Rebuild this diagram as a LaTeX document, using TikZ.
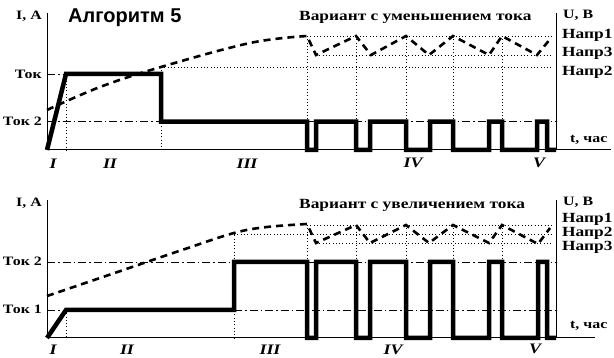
\documentclass[tikz,border=0pt]{standalone}
\usepackage{fontspec}
\usepackage{graphicx}
\setmainfont{Liberation Serif}
\newfontfamily\sansbold{Liberation Sans}
\newcommand{\widetxt}[1]{\scalebox{1.24}[1]{#1}}
\begin{document}
\begin{tikzpicture}[x=1pt,y=-1pt,
  axisline/.style={line width=1pt},
  sigline/.style={line width=4.5pt, line join=miter},
  voltline/.style={line width=2.6pt, dash pattern=on 7pt off 5pt},
  dotline/.style={line width=0.9pt, dash pattern=on 0.9pt off 2.4pt},
  ddline/.style={line width=0.9pt, dash pattern=on 8pt off 3pt on 1.5pt off 3pt},
  lab/.style={font=\fontsize{12.8}{13}\selectfont\bfseries, inner sep=0pt},
  bigl/.style={font=\fontsize{14}{15}\selectfont\bfseries, inner sep=0pt, anchor=west},
  roman/.style={font=\fontsize{14.5}{15}\selectfont\bfseries\itshape, inner sep=0pt}]
\useasboundingbox (0,0) rectangle (614,358);

% ================= TOP PANEL =================
\draw[dotline] (66,74) -- (66,150);
\draw[dotline] (161,67) -- (161,150);
\foreach \xx in {307,356,406,453,502} \draw[dotline] (\xx,36) -- (\xx,150);
\draw[dotline] (307,36) -- (552,36);
\draw[dotline] (316,55) -- (552,55);
\draw[dotline] (161,67) -- (552,67);
\draw[ddline] (47,74) -- (66,74);
\draw[ddline] (47,121.7) -- (161,121.7);
\draw[ddline] (307,121.7) -- (556,121.7);
\draw[axisline] (47,13) -- (47,150) -- (611,150);
\draw[axisline] (556,13) -- (556,150);
\draw[voltline] plot[smooth, tension=0.6] coordinates {(47,110) (100,87) (161,67) (250,43) (307,36)}
  -- (316,55) -- (356,36) -- (371,55) -- (406,36) -- (429,55) -- (453,36)
  -- (489,55) -- (502,36) -- (537,55) -- (551,38);
\draw[sigline] (47,150) -- (66,74) -- (161,74) -- (161,121.7) -- (307,121.7) -- (307,150)
  -- (316,150) -- (316,121.7) -- (356,121.7) -- (356,150)
  -- (370,150) -- (370,121.7) -- (406,121.7) -- (406,150)
  -- (430,150) -- (430,121.7) -- (453,121.7) -- (453,150)
  -- (489,150) -- (489,121.7) -- (502,121.7) -- (502,150)
  -- (537,150) -- (537,121.7) -- (547,121.7) -- (547,150) -- (556,150);
\node[lab, anchor=east] (ia1) at (42,16) {\widetxt{I, A}};
\node[font=\fontsize{20}{20}\selectfont\sansbold\bfseries, inner sep=0pt, anchor=west] (alg) at (68,18) {Алгоритм 5};
\node[bigl] (var1) at (299,17) {\widetxt{Вариант с уменьшением тока}};
\node[lab, anchor=west] (ub1) at (563,15) {\widetxt{U, B}};
\node[bigl] (n11) at (562,35) {\widetxt{Напр1}};
\node[bigl] (n13) at (562,53) {\widetxt{Напр3}};
\node[bigl] (n12) at (562,72) {\widetxt{Напр2}};
\node[lab, anchor=west] (t1) at (570,140) {\widetxt{t, час}};
\node[lab, anchor=east] (tok1a) at (42,74) {\widetxt{Ток}};
\node[lab, anchor=east] (tok1b) at (42,121.7) {\widetxt{Ток 2}};
\node[roman] (r11) at (53,164) {\widetxt{I}};
\node[roman] (r12) at (110,164) {\widetxt{II}};
\node[roman] (r13) at (247,164) {\widetxt{III}};
\node[roman] (r14) at (413,163) {\widetxt{IV}};
\node[roman] (r15) at (539,163) {\widetxt{V}};

% ================= BOTTOM PANEL =================
\draw[dotline] (66,310) -- (66,338);
\draw[dotline] (234,232) -- (234,338);
\foreach \xx in {307,356,406,453,502} \draw[dotline] (\xx,225) -- (\xx,338);
\draw[dotline] (307,225) -- (552,225);
\draw[dotline] (234,234.5) -- (552,234.5);
\draw[dotline] (316,243.5) -- (552,243.5);
\draw[ddline] (47,262) -- (234,262);
\draw[ddline] (307,262) -- (556,262);
\draw[ddline] (47,310) -- (66,310);
\draw[ddline] (234,310) -- (556,310);
\draw[axisline] (47,200) -- (47,338) -- (595,338);
\draw[axisline] (556,200) -- (556,338);
\draw[voltline] plot[smooth, tension=0.6] coordinates {(47,296) (100,278) (182,250) (234,233) (267,227) (307,224)}
  -- (316,243) -- (356,225) -- (370,243) -- (406,225) -- (429,243) -- (453,225)
  -- (489,243) -- (502,225) -- (538,244) -- (550,228);
\draw[sigline] (47,338) -- (66,310) -- (234,310) -- (234,262) -- (307,262) -- (307,338)
  -- (316,338) -- (316,262) -- (356,262) -- (356,338)
  -- (370,338) -- (370,262) -- (406,262) -- (406,338)
  -- (430,338) -- (430,262) -- (453,262) -- (453,338)
  -- (489,338) -- (489,262) -- (502,262) -- (502,338)
  -- (538,338) -- (538,262) -- (547,262) -- (547,338) -- (556,338);
\node[lab, anchor=east] (ia2) at (42,203) {\widetxt{I, A}};
\node[bigl] (var2) at (299,205) {\widetxt{Вариант с увеличением тока}};
\node[lab, anchor=west] (ub2) at (563,202) {\widetxt{U, B}};
\node[bigl] (n21) at (562,219) {\widetxt{Напр1}};
\node[bigl] (n22) at (562,233) {\widetxt{Напр2}};
\node[bigl] (n23) at (562,247) {\widetxt{Напр3}};
\node[lab, anchor=west] (t2) at (570,326) {\widetxt{t, час}};
\node[lab, anchor=east] (tok2a) at (42,261) {\widetxt{Ток 2}};
\node[lab, anchor=east] (tok2b) at (42,309) {\widetxt{Ток 1}};
\node[roman] (r21) at (53,350) {\widetxt{I}};
\node[roman] (r22) at (127,350) {\widetxt{II}};
\node[roman] (r23) at (270,350) {\widetxt{III}};
\node[roman] (r24) at (393,350) {\widetxt{IV}};
\node[roman] (r25) at (535,349) {\widetxt{V}};
\end{tikzpicture}
\end{document}
